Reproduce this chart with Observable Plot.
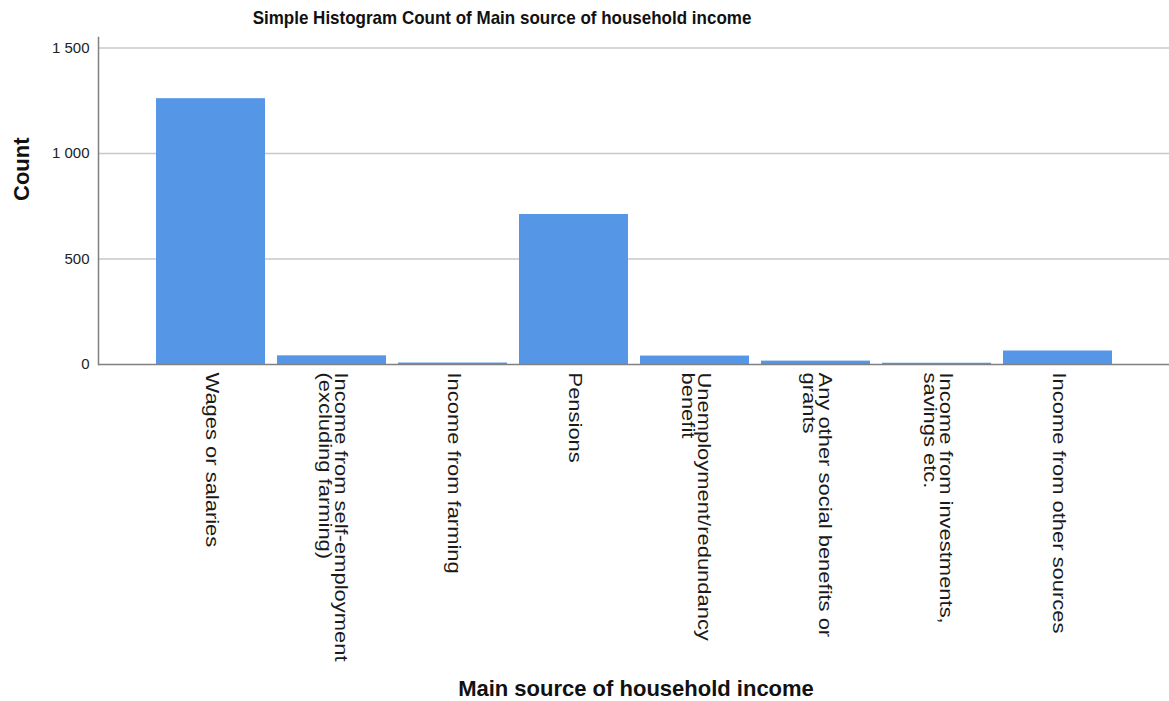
<!DOCTYPE html>
<html>
<head>
<meta charset="utf-8">
<script src="https://cdn.jsdelivr.net/npm/d3@7"></script>
<script src="https://cdn.jsdelivr.net/npm/@observablehq/plot@0.6"></script>
<style>
  html, body { margin: 0; padding: 0; background: #fff; }
  #wrap { position: relative; width: 1169px; height: 701px; overflow: hidden; font-family: "Liberation Sans", Arial, sans-serif; }
  #title { position: absolute; left: 502px; top: 8px; transform: translateX(-50%) scaleY(1.12); white-space: nowrap; font-weight: bold; font-size: 17px; line-height: 20px; color: #111; }
  #xtitle { position: absolute; left: 636px; top: 676px; transform: translateX(-50%); white-space: nowrap; font-weight: bold; font-size: 22px; line-height: 26px; color: #111; }
  #chart { position: absolute; left: 0; top: 0; }
</style>
</head>
<body>
<div id="wrap">
  <div id="chart"></div>
  <div id="title">Simple Histogram Count of Main source of household income</div>
  <div id="xtitle">Main source of household income</div>
</div>
<script>
const categories = [
  "Wages or salaries",
  "Income from self-employment (excluding farming)",
  "Income from farming",
  "Pensions",
  "Unemployment/redundancy benefit",
  "Any other social benefits or grants",
  "Income from investments, savings etc.",
  "Income from other sources"
];
const tickLabels = [
  "Wages or salaries",
  "Income from self-employment\n(excluding farming)",
  "Income from farming",
  "Pensions",
  "Unemployment/redundancy\nbenefit",
  "Any other social benefits or\ngrants",
  "Income from investments,\nsavings etc.",
  "Income from other sources"
];
const counts = [1260, 41, 7, 711, 40, 16, 6, 64];
const yTicks = [0, 500, 1000, 1500];
const yLabel = "Count";

const data = categories.map((c, i) => ({category: c, count: counts[i], label: tickLabels[i]}));
const fmt = d => d3.format(",")(d).replace(/,/g, " ");

const svg = Plot.plot({
  width: 1169,
  height: 701,
  marginLeft: 98,
  marginRight: 0,
  marginTop: 37,
  marginBottom: 337,
  style: {fontFamily: "'Liberation Sans', Arial, sans-serif", fontSize: "15px", color: "#222", background: "transparent"},
  x: {type: "band", domain: categories, paddingInner: 0.1, paddingOuter: 0.47, align: 0.5, axis: null},
  y: {domain: [0, 1550], axis: null},
  marks: [
    Plot.gridY(yTicks.filter(d => d > 0), {stroke: "#c8c8c8", strokeOpacity: 1, strokeWidth: 1.5}),
    Plot.barY(data, {x: "category", y: "count", fill: "#5596E6"}),
    Plot.ruleY([0], {stroke: "#808080", strokeWidth: 1.5}),
    Plot.frame({anchor: "left", stroke: "#808080", strokeWidth: 1.5}),
    Plot.axisY({ticks: yTicks, tickFormat: fmt, tickSize: 0, tickPadding: 9, label: null, fontSize: 15, fill: "#222"}),
    Plot.text(data, {x: "category", text: "label", frameAnchor: "bottom", rotate: 90, textAnchor: "start", lineAnchor: "middle", lineHeight: 0.88, dy: 8, fontSize: 18, fill: "#1a1a1a"}),
    Plot.text([yLabel], {text: d => d, frameAnchor: "left", dx: -77, rotate: -90, fontSize: 22, fontWeight: "bold", fill: "#111"})
  ]
});

d3.select(svg).selectAll("text").each(function() {
  const t = this.getAttribute("transform") || "";
  if (t.includes("rotate(90)")) this.setAttribute("transform", t + " scale(1.22,1)");
});

document.getElementById("chart").appendChild(svg);
</script>
</body>
</html>
